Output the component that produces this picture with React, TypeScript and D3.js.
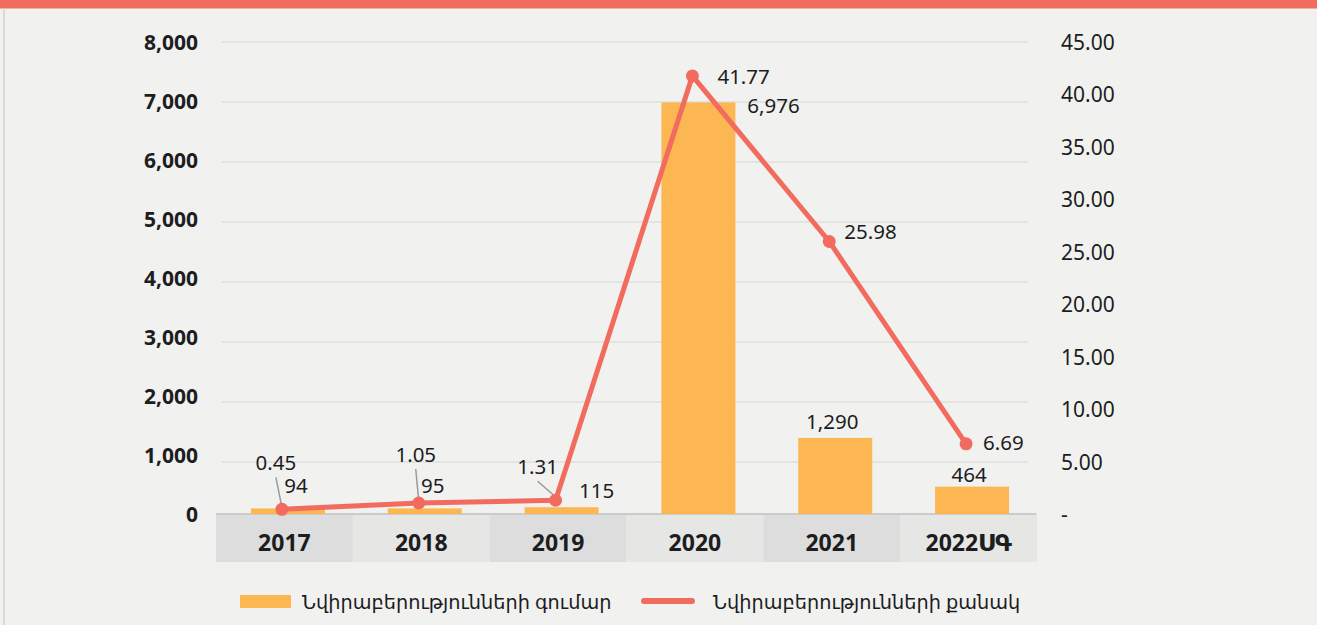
import React from "react";
import * as d3 from "d3";

const categories = ["2017", "2018", "2019", "2020", "2021", "2022ՍԳ"];
const amountValues = [94, 95, 115, 6976, 1290, 464];
const countValues = [0.45, 1.05, 1.31, 41.77, 25.98, 6.69];
const leftTicks = [0, 1000, 2000, 3000, 4000, 5000, 6000, 7000, 8000];
const rightTicks = [0, 5, 10, 15, 20, 25, 30, 35, 40, 45];
const amountLabels = ["94", "95", "115", "6,976", "1,290", "464"];
const countLabels = ["0.45", "1.05", "1.31", "41.77", "25.98", "6.69"];
const legendNames = ["Նվիրաբերությունների գումար", "Նվիրաբերությունների քանակ"];

// label placement offsets (style, not data)
const amountOffsets = [
  { dx: 8, dy: -23, anchor: "middle" },
  { dx: 8, dy: -23, anchor: "middle" },
  { dx: 35, dy: -17, anchor: "middle" },
  { dx: 75, dy: 3, anchor: "middle" },
  { dx: -3, dy: -17, anchor: "middle" },
  { dx: -3, dy: -13, anchor: "middle" },
];
const countOffsets = [
  { dx: -6, dy: -47, anchor: "middle", leader: true },
  { dx: -3, dy: -49, anchor: "middle", leader: true },
  { dx: -18, dy: -34, anchor: "middle", leader: true },
  { dx: 25, dy: 0, anchor: "start", leader: false },
  { dx: 15, dy: -10, anchor: "start", leader: false },
  { dx: 17, dy: -2, anchor: "start", leader: false },
];

const W = 1317;
const H = 625;
const BG = "#F1F1EF";
const RED = "#F26B5F";
const ORANGE = "#FCB752";
const TEXT = "#1C1D1F";
const FONT = '"Noto Sans", "DejaVu Sans", sans-serif';

export default function App() {
  const yLeft = d3.scaleLinear().domain([0, 8000]).range([514, 42]);
  const yGrid = d3.scaleLinear().domain([0, 8000]).range([522, 42]);
  const yRight = d3.scaleLinear().domain([0, 45]).range([514, 42]);
  const x = d3.scaleBand<string>().domain(categories).range([216, 1037]).paddingInner(0).paddingOuter(0);
  const bw = x.bandwidth();
  const barW = 74;
  const barCx = (c: string) => (x(c) as number) + bw / 2 + 3.5;
  const ptCx = (c: string) => (x(c) as number) + bw / 2 - 2.5;

  const line = d3
    .line<number>()
    .x((_, i) => ptCx(categories[i]))
    .y((d) => yRight(d));

  return (
    <svg
      width={W}
      height={H}
      style={{ position: "absolute", left: 0, top: 0, display: "block", background: BG }}
      fontFamily={FONT}
    >
      <rect x={0} y={0} width={W} height={H} fill={BG} />
      <rect x={0} y={0} width={W} height={8.5} fill={RED} />
      <rect x={3} y={8.5} width={2} height={H - 8.5} fill="#DADAD8" />

      {/* gridlines */}
      {leftTicks
        .filter((t) => t > 0)
        .map((t) => (
          <line key={"g" + t} x1={222} x2={1028} y1={yGrid(t)} y2={yGrid(t)} stroke="#E3E3E1" strokeWidth={2} />
        ))}

      {/* left axis labels */}
      {leftTicks.map((t) => (
        <text
          key={"l" + t}
          x={198}
          y={yLeft(t)}
          textAnchor="end"
          dominantBaseline="central"
          fontSize={21}
          fontWeight="bold"
          fill={TEXT}
        >
          {d3.format(",")(t)}
        </text>
      ))}

      {/* right axis labels */}
      {rightTicks.map((t) => (
        <text
          key={"r" + t}
          x={1061}
          y={yRight(t)}
          textAnchor="start"
          dominantBaseline="central"
          fontSize={21}
          fill={TEXT}
        >
          {t === 0 ? "-" : d3.format(".2f")(t)}
        </text>
      ))}

      {/* category bands */}
      {categories.map((c, i) => (
        <rect
          key={"b" + c}
          x={x(c)}
          y={514}
          width={bw}
          height={48}
          fill={i % 2 === 0 ? "#DCDDDC" : "#E6E6E5"}
        />
      ))}
      <line x1={216} x2={1036} y1={514} y2={514} stroke="#CBCBCB" strokeWidth={2} />
      {categories.map((c) => (
        <text
          key={"c" + c}
          x={(x(c) as number) + bw / 2}
          y={542}
          textAnchor="middle"
          dominantBaseline="central"
          fontSize={23}
          fontWeight="bold"
          fill={TEXT}
        >
          {c}
        </text>
      ))}

      {/* bars */}
      {amountValues.map((v, i) => (
        <rect
          key={"bar" + i}
          x={barCx(categories[i]) - barW / 2}
          y={yLeft(v)}
          width={barW}
          height={yLeft(0) - yLeft(v)}
          fill={ORANGE}
        />
      ))}

      {/* bar labels */}
      {amountValues.map((v, i) => (
        <text
          key={"bl" + i}
          x={barCx(categories[i]) + amountOffsets[i].dx}
          y={yLeft(v) + amountOffsets[i].dy}
          textAnchor={amountOffsets[i].anchor as any}
          dominantBaseline="central"
          fontSize={20.5}
          fill={TEXT}
        >
          {amountLabels[i]}
        </text>
      ))}

      {/* leader lines */}
      {countValues.map((v, i) => {
        const o = countOffsets[i];
        if (!o.leader) return null;
        const px = ptCx(categories[i]);
        const py = yRight(v);
        const lx = px + o.dx;
        const ly = py + o.dy + 15;
        const ex = px - (px - lx) * 0.1;
        const ey = py - 5;
        return (
          <line key={"ld" + i} x1={lx} y1={ly} x2={ex} y2={ey} stroke="#9A9A9A" strokeWidth={1.5} />
        );
      })}

      {/* line */}
      <path d={line(countValues) || ""} fill="none" stroke={RED} strokeWidth={5} strokeLinejoin="round" />
      {countValues.map((v, i) => (
        <circle key={"pt" + i} cx={ptCx(categories[i])} cy={yRight(v)} r={6.5} fill={RED} />
      ))}

      {/* line labels */}
      {countValues.map((v, i) => (
        <text
          key={"cl" + i}
          x={ptCx(categories[i]) + countOffsets[i].dx}
          y={yRight(v) + countOffsets[i].dy}
          textAnchor={countOffsets[i].anchor as any}
          dominantBaseline="central"
          fontSize={20.5}
          fill={TEXT}
        >
          {countLabels[i]}
        </text>
      ))}

      {/* legend */}
      <rect x={240} y={595} width={51} height={13} fill={ORANGE} />
      <text x={302} y={601} dominantBaseline="central" fontSize={19.3} fill={TEXT}>
        {legendNames[0]}
      </text>
      <line x1={644} x2={692} y1={601} y2={601} stroke={RED} strokeWidth={6} strokeLinecap="round" />
      <text x={713} y={601} dominantBaseline="central" fontSize={19.3} fill={TEXT}>
        {legendNames[1]}
      </text>
    </svg>
  );
}
